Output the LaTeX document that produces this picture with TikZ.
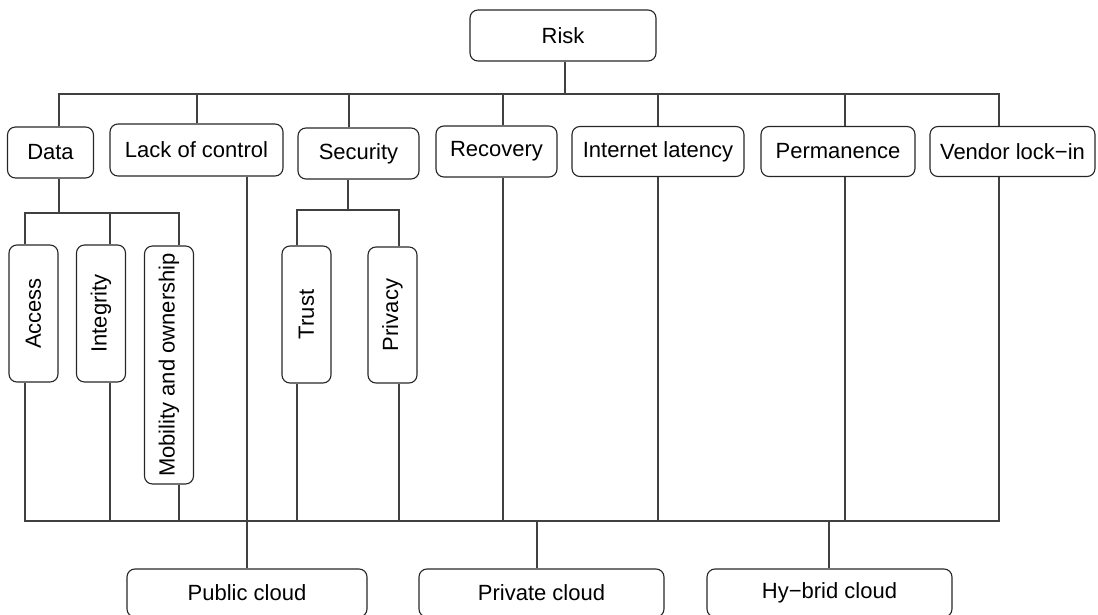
\documentclass[tikz,border=0pt]{standalone}
\usepackage{fontspec}
\setmainfont{Liberation Sans}
\usetikzlibrary{calc}

\begin{document}
\begin{tikzpicture}[
    x=1pt, y=-1pt,
    line/.style={draw=black!75, line width=1.1pt},
    box/.style={draw=black!85, line width=1.1pt, rounded corners=8pt, inner sep=0pt,
        font=\fontsize{22}{24}\selectfont},
    vbox/.style={box, rotate=90, minimum height=49pt}]
\useasboundingbox (0,0) rectangle (1098,615);

\coordinate (topbus) at (0,94);
\coordinate (databus) at (0,213);
\coordinate (secbus) at (0,210);
\coordinate (lowbus) at (0,521);

\node[box, minimum width=186pt, minimum height=51pt] (risk) at (563,35.5) {Risk};

\node[box, minimum width=86pt,  minimum height=51pt] (data)    at (50.5,152.5)  {Data};
\node[box, minimum width=173pt, minimum height=52pt] (lack)    at (196.5,150)   {Lack of control};
\node[box, minimum width=121pt, minimum height=51pt] (secu)    at (358.5,153.5) {Security};
\node[box, minimum width=121pt, minimum height=51pt] (recov)   at (496.5,151.5) {Recovery};
\node[box, minimum width=172pt, minimum height=50pt] (latency) at (658,151.5)   {Internet latency};
\node[box, minimum width=154pt, minimum height=50pt] (perm)    at (838,151.5)   {Permanence};
\node[box, minimum width=165pt, minimum height=50pt] (vendor)  at (1012.5,151.5){Vendor lock−in};

\node[vbox, minimum width=137pt] (access)  at (33.5,313.5)  {Access};
\node[vbox, minimum width=137pt] (integ)   at (101,313.5)   {Integrity};
\node[vbox, minimum width=238pt] (mobil)   at (169,365)     {Mobility and ownership};
\node[vbox, minimum width=137pt] (trust)   at (306.5,314.5) {Trust};
\node[vbox, minimum width=136pt] (privacy) at (392.5,315)   {Privacy};

\node[box, minimum width=240pt, minimum height=48pt] (public)  at (247,593)   {Public cloud};
\node[box, minimum width=245pt, minimum height=48pt] (private) at (541.5,593) {Private cloud};
\node[box, minimum width=245pt, minimum height=48pt] (hybrid)  at (829.5,593) {Hy−brid cloud};

% risk and its branches
\path[line] ([xshift=2pt]risk.south) -- ([xshift=2pt]risk.south |- topbus);
\path[line] ([xshift=8.5pt]data.north) |- ([xshift=-13.5pt]vendor.north |- topbus) -- ([xshift=-13.5pt]vendor.north);
\path[line] ([xshift=0.5pt]lack.north) -- ([xshift=0.5pt]lack.north |- topbus);
\path[line] ([xshift=-9.5pt]secu.north) -- ([xshift=-9.5pt]secu.north |- topbus);
\path[line] ([xshift=6.5pt]recov.north) -- ([xshift=6.5pt]recov.north |- topbus);
\path[line] (latency.north) -- (latency.north |- topbus);
\path[line] ([xshift=7pt]perm.north) -- ([xshift=7pt]perm.north |- topbus);

% data and security split
\path[line] ([xshift=8.5pt]data.south) -- ([xshift=8.5pt]data.south |- databus);
\path[line] ([xshift=-8.5pt]access.east) |- ([xshift=10pt]mobil.east |- databus) -- ([xshift=10pt]mobil.east);
\path[line] ([xshift=9pt]integ.east) -- ([xshift=9pt]integ.east |- databus);
\path[line] ([xshift=-10.5pt]secu.south) -- ([xshift=-10.5pt]secu.south |- secbus);
\path[line] ([xshift=-9.5pt]trust.east) |- ([xshift=6.5pt]privacy.east |- secbus) -- ([xshift=6.5pt]privacy.east);

% everything down to the clouds
\path[line] ([xshift=-8.5pt]access.west) |- ([xshift=-13.5pt]vendor.south |- lowbus) -- ([xshift=-13.5pt]vendor.south);
\path[line] ([xshift=9pt]integ.west) -- ([xshift=9pt]integ.west |- lowbus);
\path[line] ([xshift=10pt]mobil.west) -- ([xshift=10pt]mobil.west |- lowbus);
\path[line] ([xshift=-9.5pt]trust.west) -- ([xshift=-9.5pt]trust.west |- lowbus);
\path[line] ([xshift=6.5pt]privacy.west) -- ([xshift=6.5pt]privacy.west |- lowbus);
\path[line] ([xshift=6.5pt]recov.south) -- ([xshift=6.5pt]recov.south |- lowbus);
\path[line] (latency.south) -- (latency.south |- lowbus);
\path[line] ([xshift=7pt]perm.south) -- ([xshift=7pt]perm.south |- lowbus);
\path[line] ([xshift=50.5pt]lack.south) -- (public.north);
\path[line] ([xshift=-4.5pt]private.north) -- ([xshift=-4.5pt]private.north |- lowbus);
\path[line] ([xshift=-0.5pt]hybrid.north) -- ([xshift=-0.5pt]hybrid.north |- lowbus);

\end{tikzpicture}
\end{document}
